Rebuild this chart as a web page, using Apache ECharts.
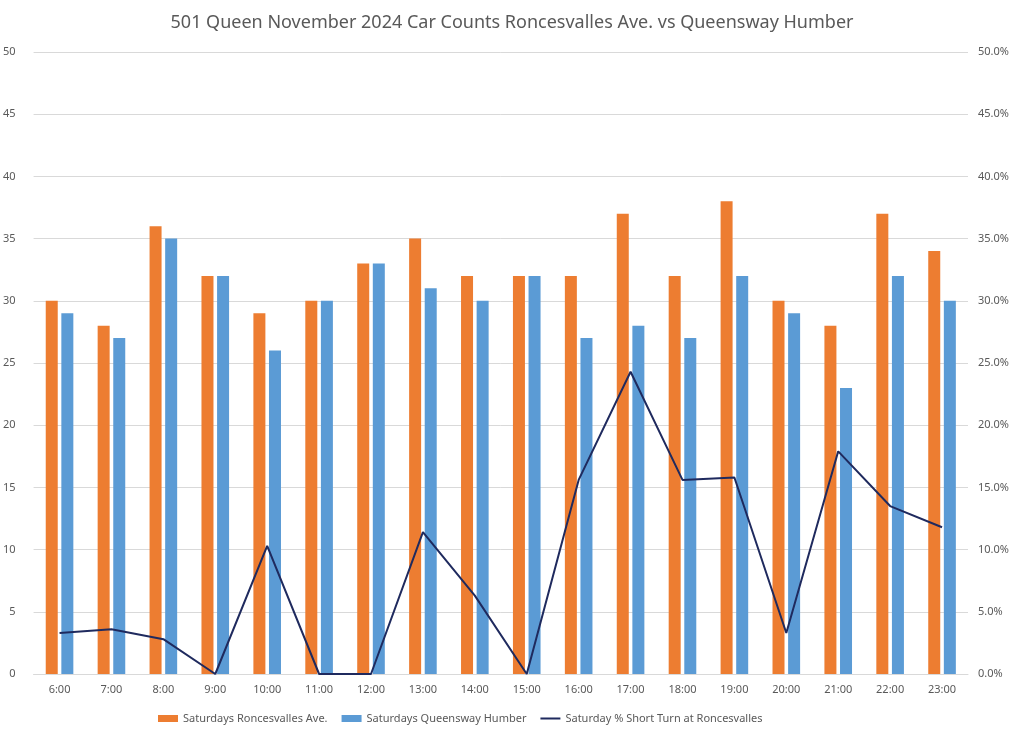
<!DOCTYPE html>
<html>
<head>
<meta charset="utf-8">
<script src="https://cdn.jsdelivr.net/npm/echarts@6/dist/echarts.min.js"></script>
<style>html,body{margin:0;padding:0;background:#fff}#c{width:1024px;height:738px}</style>
</head>
<body>
<div id="c"></div>
<script>
const categories = ['6:00','7:00','8:00','9:00','10:00','11:00','12:00','13:00','14:00','15:00','16:00','17:00','18:00','19:00','20:00','21:00','22:00','23:00'];
const roncesvalles = [30,28,36,32,29,30,33,35,32,32,32,37,32,38,30,28,37,34];
const queensway = [29,27,35,32,26,30,33,31,30,32,27,28,27,32,29,23,32,30];
const shortTurnPct = [3.3,3.6,2.8,0,10.3,0,0,11.4,6.3,0,15.6,24.3,15.6,15.8,3.3,17.9,13.5,11.8];

const font = 'Noto Sans';
const chart = echarts.init(document.getElementById('c'));
chart.setOption({
  animation: false,
  title: {
    text: '501 Queen November 2024 Car Counts Roncesvalles Ave. vs Queensway Humber',
    left: 'center', top: 9,
    textStyle: {fontFamily: font, fontSize: 18, fontWeight: 'normal', color: '#595959'}
  },
  legend: {
    bottom: 9, left: 153, itemGap: 14, itemWidth: 20, itemHeight: 7,
    textStyle: {fontFamily: font, fontSize: 11, color: '#595959'},
    data: [
      {name: 'Saturdays Roncesvalles Ave.', icon: 'rect'},
      {name: 'Saturdays Queensway Humber', icon: 'rect'},
      {name: 'Saturday % Short Turn at Roncesvalles', icon: 'path://M0,2.6 L20,2.6 L20,4.4 L0,4.4 Z M0,0 L0,0.01 M0,7 L0,7.01'}
    ]
  },
  grid: {left: 33, right: 56, top: 52, bottom: 64},
  xAxis: {
    type: 'category', data: categories,
    axisLine: {lineStyle: {color: '#d9d9d9'}},
    axisTick: {show: false},
    axisLabel: {fontFamily: font, fontSize: 11, color: '#595959', margin: 10}
  },
  yAxis: [
    {type: 'value', min: 0, max: 50, interval: 5,
     axisLine: {show: false}, axisTick: {show: false},
     splitLine: {lineStyle: {color: '#d9d9d9'}},
     axisLabel: {fontFamily: font, fontSize: 11, color: '#595959', margin: 18}},
    {type: 'value', min: 0, max: 50, interval: 5,
     axisLine: {show: false}, axisTick: {show: false}, splitLine: {show: false},
     axisLabel: {fontFamily: font, fontSize: 11, color: '#595959', margin: 10,
       formatter: v => v.toFixed(1) + '%'}}
  ],
  series: [
    {name: 'Saturdays Roncesvalles Ave.', type: 'bar', data: roncesvalles,
     barWidth: 12, barGap: '30%', itemStyle: {color: '#ED7D31'}},
    {name: 'Saturdays Queensway Humber', type: 'bar', data: queensway,
     barWidth: 12, barGap: '30%', itemStyle: {color: '#5B9BD5'}},
    {name: 'Saturday % Short Turn at Roncesvalles', type: 'line', yAxisIndex: 1,
     data: shortTurnPct, symbol: 'none',
     lineStyle: {color: '#1F2A5E', width: 2}, itemStyle: {color: '#1F2A5E'}}
  ]
});
</script>
</body>
</html>
